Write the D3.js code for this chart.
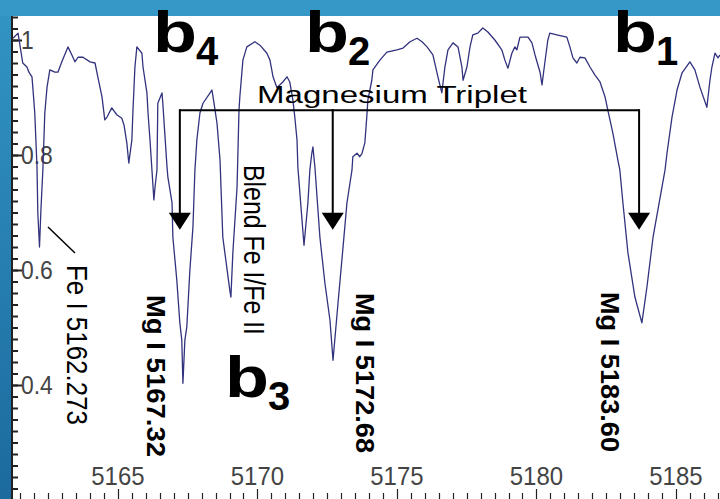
<!DOCTYPE html>
<html>
<head>
<meta charset="utf-8">
<script src="https://cdn.jsdelivr.net/npm/d3@7"></script>
<style>
  html, body { margin: 0; padding: 0; background: #fff; }
  svg { display: block; }
  text { font-family: "Liberation Sans", Arial, sans-serif; }
</style>
</head>
<body>
<svg width="720" height="499"></svg>
<script>
/* global d3 */
// spectrum (wavelength in Angstrom, normalised flux)
const wavelength = [
  5161.24, 5161.42, 5161.59, 5161.74, 5161.81, 5161.92, 5161.95, 5162.02, 5162.10, 5162.13,
  5162.19, 5162.24, 5162.31, 5162.38, 5162.46, 5162.56, 5162.74, 5162.85, 5162.99, 5163.21,
  5163.35, 5163.46, 5163.57, 5163.75, 5164.00, 5164.18, 5164.28, 5164.43, 5164.53, 5164.61,
  5164.78, 5164.96, 5165.14, 5165.22, 5165.32, 5165.39, 5165.50, 5165.54, 5165.61, 5165.68,
  5165.86, 5165.90, 5166.04, 5166.08, 5166.15, 5166.22, 5166.29, 5166.33, 5166.40, 5166.43,
  5166.58, 5166.61, 5166.68, 5166.76, 5166.79, 5166.94, 5166.97, 5167.11, 5167.22, 5167.29,
  5167.33, 5167.40, 5167.47, 5167.58, 5167.69, 5167.76, 5167.83, 5167.94, 5168.05, 5168.37,
  5168.41, 5168.55, 5168.66, 5168.76, 5169.01, 5169.05, 5169.12, 5169.27, 5169.34, 5169.37,
  5169.48, 5169.62, 5169.91, 5170.09, 5170.34, 5170.45, 5170.56, 5170.70, 5170.91, 5171.06,
  5171.16, 5171.27, 5171.34, 5171.42, 5171.45, 5171.59, 5171.67, 5171.81, 5171.88, 5171.95,
  5171.99, 5172.06, 5172.24, 5172.42, 5172.60, 5172.71, 5172.89, 5173.06, 5173.21, 5173.39,
  5173.42, 5173.57, 5173.67, 5173.75, 5173.85, 5173.92, 5173.96, 5174.10, 5174.14, 5174.39,
  5174.64, 5175.00, 5175.22, 5175.47, 5175.72, 5175.90, 5176.08, 5176.29, 5176.47, 5176.61,
  5176.72, 5176.83, 5177.01, 5177.19, 5177.33, 5177.37, 5177.51, 5177.62, 5177.72, 5177.90,
  5178.08, 5178.26, 5178.51, 5178.76, 5178.87, 5178.98, 5179.12, 5179.23, 5179.30, 5179.41,
  5179.70, 5179.84, 5179.95, 5180.13, 5180.20, 5180.30, 5180.41, 5180.48, 5180.73, 5181.09,
  5181.20, 5181.31, 5181.45, 5181.56, 5181.74, 5181.92, 5182.10, 5182.28, 5182.46, 5182.56,
  5182.74, 5182.92, 5182.99, 5183.10, 5183.28, 5183.53, 5183.78, 5183.96, 5184.18, 5184.50,
  5184.61, 5184.68, 5184.86, 5185.04, 5185.22, 5185.50, 5185.68, 5185.86, 5186.11, 5186.22,
  5186.29, 5186.40, 5186.51, 5186.58
]
const flux = [
  1.003, 1.012, 0.960, 0.953, 0.944, 0.936, 0.918, 0.873, 0.779, 0.699,
  0.640, 0.704, 0.774, 0.873, 0.918, 0.948, 0.944, 0.944, 0.962, 0.988,
  0.974, 0.962, 0.970, 0.970, 0.962, 0.960, 0.936, 0.901, 0.861, 0.866,
  0.882, 0.870, 0.864, 0.852, 0.821, 0.786, 0.826, 0.878, 0.953, 0.988,
  0.977, 0.953, 0.908, 0.873, 0.826, 0.774, 0.722, 0.744, 0.774, 0.890,
  0.908, 0.890, 0.838, 0.779, 0.762, 0.717, 0.657, 0.583, 0.508, 0.478,
  0.403, 0.478, 0.501, 0.600, 0.675, 0.774, 0.826, 0.873, 0.890, 0.913,
  0.901, 0.856, 0.791, 0.657, 0.565, 0.553, 0.630, 0.744, 0.878, 0.901,
  0.965, 0.988, 0.997, 0.991, 0.977, 0.965, 0.936, 0.917, 0.927, 0.936,
  0.927, 0.896, 0.866, 0.826, 0.779, 0.692, 0.643, 0.717, 0.774, 0.803,
  0.814, 0.779, 0.657, 0.577, 0.513, 0.443, 0.543, 0.635, 0.717, 0.774,
  0.797, 0.803, 0.797, 0.803, 0.821, 0.866, 0.896, 0.930, 0.948, 0.965,
  0.979, 0.983, 0.986, 0.997, 1.003, 0.997, 0.988, 0.974, 0.936, 0.908,
  0.953, 0.983, 0.995, 0.988, 0.953, 0.930, 0.953, 0.988, 1.009, 1.012,
  1.021, 1.014, 1.000, 0.983, 0.965, 0.951, 0.977, 0.988, 0.983, 1.005,
  1.005, 0.995, 0.974, 0.944, 0.922, 0.960, 1.000, 1.012, 1.009, 1.005,
  0.988, 0.969, 0.960, 0.970, 0.969, 0.953, 0.939, 0.927, 0.901, 0.878,
  0.838, 0.791, 0.774, 0.717, 0.630, 0.553, 0.508, 0.570, 0.657, 0.744,
  0.774, 0.803, 0.866, 0.913, 0.943, 0.962, 0.948, 0.918, 0.883, 0.930,
  0.953, 0.977, 0.969, 0.974
]

const xTickValues = [5165, 5170, 5175, 5180, 5185]
const yTickValues = [0.4, 0.6, 0.8, 1]
// where the triplet arrows point
const arrowWavelengths = [5167.22, 5172.70, 5183.68]
const bracketFlux = 0.878
const arrowTipFlux = 0.67

var svg = d3.select('svg')
var width = +svg.attr('width')
var height = +svg.attr('height')

let frameTop = '#3598c6'
let lineC = '#32327e'
let axisC = '#222'
let tickLabelC = '#444'

var x = d3.scaleLinear().domain([5161.24, 5186.58]).range([13, 720])
var y = d3.scaleLinear().domain([0.2, 1]).range([500, 40])

var defs = svg.append('defs')
var grad = defs.append('linearGradient')
  .attr('id', 'sideBand')
  .attr('x1', 0).attr('y1', 0).attr('x2', 0).attr('y2', 1)
grad.append('stop').attr('offset', '0%').attr('stop-color', '#3295c4')
grad.append('stop').attr('offset', '100%').attr('stop-color', '#1c6a9e')

defs.append('clipPath').attr('id', 'plotClip')
  .append('rect').attr('x', 13).attr('y', 16).attr('width', width - 13).attr('height', height - 16)

// frame bands
svg.append('rect').attr('x', 0).attr('y', 0).attr('width', 11).attr('height', height).attr('fill', 'url(#sideBand)')
svg.append('rect').attr('x', 0).attr('y', 0).attr('width', width).attr('height', 16).attr('fill', frameTop)

// left axis: comb of minor ticks every 0.02, longer ones at the labels
var yMinor = d3.range(11, 53).map(i => i * 0.02)
var yMinorAxis = d3.axisRight(y).tickValues(yMinor).tickSize(6).tickFormat('')
var yMajorAxis = d3.axisRight(y).tickValues(yTickValues).tickSize(10).tickFormat('')
svg.append('g')
  .attr('transform', 'translate(12,0)')
  .call(yMinorAxis)
  .call(g => g.select('.domain').remove())
  .call(g => g.selectAll('line').attr('stroke', axisC).attr('stroke-width', 2))
svg.append('g')
  .attr('transform', 'translate(12,0)')
  .call(yMajorAxis)
  .call(g => g.select('.domain').remove())
  .call(g => g.selectAll('line').attr('stroke', axisC).attr('stroke-width', 2))
svg.append('line')
  .attr('x1', 12).attr('x2', 12).attr('y1', 16).attr('y2', height)
  .attr('stroke', axisC).attr('stroke-width', 2)

// bottom axis ticks, pointing up from the bottom edge
var xMinor = d3.range(5161.5, 5186.6, 0.5)
svg.append('g').selectAll('line')
  .data(xMinor)
  .enter().append('line')
    .attr('x1', d => Math.round(x(d)) + 0.5).attr('x2', d => Math.round(x(d)) + 0.5)
    .attr('y1', d => d % 5 === 0 ? height - 10 : height - 6)
    .attr('y2', height)
    .attr('stroke', axisC).attr('stroke-width', 1.2)

// squeeze a text to a fraction of its natural width
function squeeze (sel, k) {
  sel.each(function () {
    var w = this.getComputedTextLength()
    d3.select(this).attr('textLength', w * k).attr('lengthAdjust', 'spacingAndGlyphs')
  })
}

svg.append('g').selectAll('text')
  .data(yTickValues)
  .enter().append('text')
    .attr('x', 21)
    .attr('y', d => y(d) + 9)
    .attr('font-size', 26)
    .attr('fill', tickLabelC)
    .text(d => d3.format('~g')(d))
    .call(squeeze, 0.88)

svg.append('g').selectAll('text')
  .data(xTickValues)
  .enter().append('text')
    .attr('x', d => x(d))
    .attr('y', 485)
    .attr('text-anchor', 'middle')
    .attr('font-size', 26)
    .attr('fill', tickLabelC)
    .text(d => d)
    .call(squeeze, 0.92)

// the spectrum
var line = d3.line()
  .x(d => x(d[0]))
  .y(d => y(d[1]))

svg.append('path')
  .datum(d3.zip(wavelength, flux))
  .attr('clip-path', 'url(#plotClip)')
  .attr('fill', 'none')
  .attr('stroke', lineC)
  .attr('stroke-width', 1.3)
  .attr('stroke-linejoin', 'round')
  .attr('d', line)

// Magnesium triplet bracket with arrows
var ann = svg.append('g')
var xa = arrowWavelengths.map(x)
var yb = y(bracketFlux)
var yt = y(arrowTipFlux)
ann.append('line')
  .attr('x1', xa[0]).attr('x2', xa[2]).attr('y1', yb).attr('y2', yb)
  .attr('stroke', '#000').attr('stroke-width', 2)
ann.selectAll('line.stem')
  .data(xa)
  .enter().append('line')
    .attr('class', 'stem')
    .attr('x1', d => d).attr('x2', d => d)
    .attr('y1', yb - 1).attr('y2', yt - 14)
    .attr('stroke', '#000').attr('stroke-width', 2)
ann.selectAll('path.head')
  .data(xa)
  .enter().append('path')
    .attr('class', 'head')
    .attr('d', d => `M${d - 11},${yt - 17} L${d + 11},${yt - 17} L${d},${yt} Z`)
    .attr('fill', '#000')

ann.append('text')
  .attr('x', 257).attr('y', 103)
  .attr('font-size', 23)
  .attr('textLength', 270).attr('lengthAdjust', 'spacingAndGlyphs')
  .text('Magnesium Triplet')

// Fe I pointer
ann.append('line')
  .attr('x1', 48).attr('y1', 227).attr('x2', 75).attr('y2', 253)
  .attr('stroke', '#000').attr('stroke-width', 1.5)

// rotated line labels
var rotated = [
  { t: 'Fe I 5162.273', x: 67, y: 265, len: 160, size: 29, w: 'normal' },
  { t: 'Blend Fe I/Fe II', x: 244, y: 165, len: 170, size: 29, w: 'normal' },
  { t: 'Mg I 5167.32', x: 147, y: 295, len: 162, size: 26, w: 'bold' },
  { t: 'Mg I 5172.68', x: 356, y: 293, len: 160, size: 26, w: 'bold' },
  { t: 'Mg I 5183.60', x: 601, y: 292, len: 160, size: 26, w: 'bold' }
]
ann.selectAll('text.rot')
  .data(rotated)
  .enter().append('text')
    .attr('class', 'rot')
    .attr('transform', d => `translate(${d.x},${d.y}) rotate(90)`)
    .attr('font-size', d => d.size)
    .attr('font-weight', d => d.w)
    .attr('textLength', d => d.len).attr('lengthAdjust', 'spacingAndGlyphs')
    .text(d => d.t)

// b1..b4 labels
var bLabels = [
  { sub: '4', x: 153, y: 52 },
  { sub: '2', x: 305, y: 52 },
  { sub: '1', x: 613, y: 52 },
  { sub: '3', x: 225, y: 397 }
]
var bg = ann.selectAll('g.blab')
  .data(bLabels)
  .enter().append('g')
    .attr('class', 'blab')
    .attr('transform', d => `translate(${d.x},${d.y})`)
bg.append('text')
  .attr('font-size', 58).attr('font-weight', 'bold')
  .attr('textLength', 44).attr('lengthAdjust', 'spacingAndGlyphs')
  .text('b')
bg.append('text')
  .attr('x', 43).attr('y', 13)
  .attr('font-size', 40).attr('font-weight', 'bold')
  .text(d => d.sub)
</script>
</body>
</html>
